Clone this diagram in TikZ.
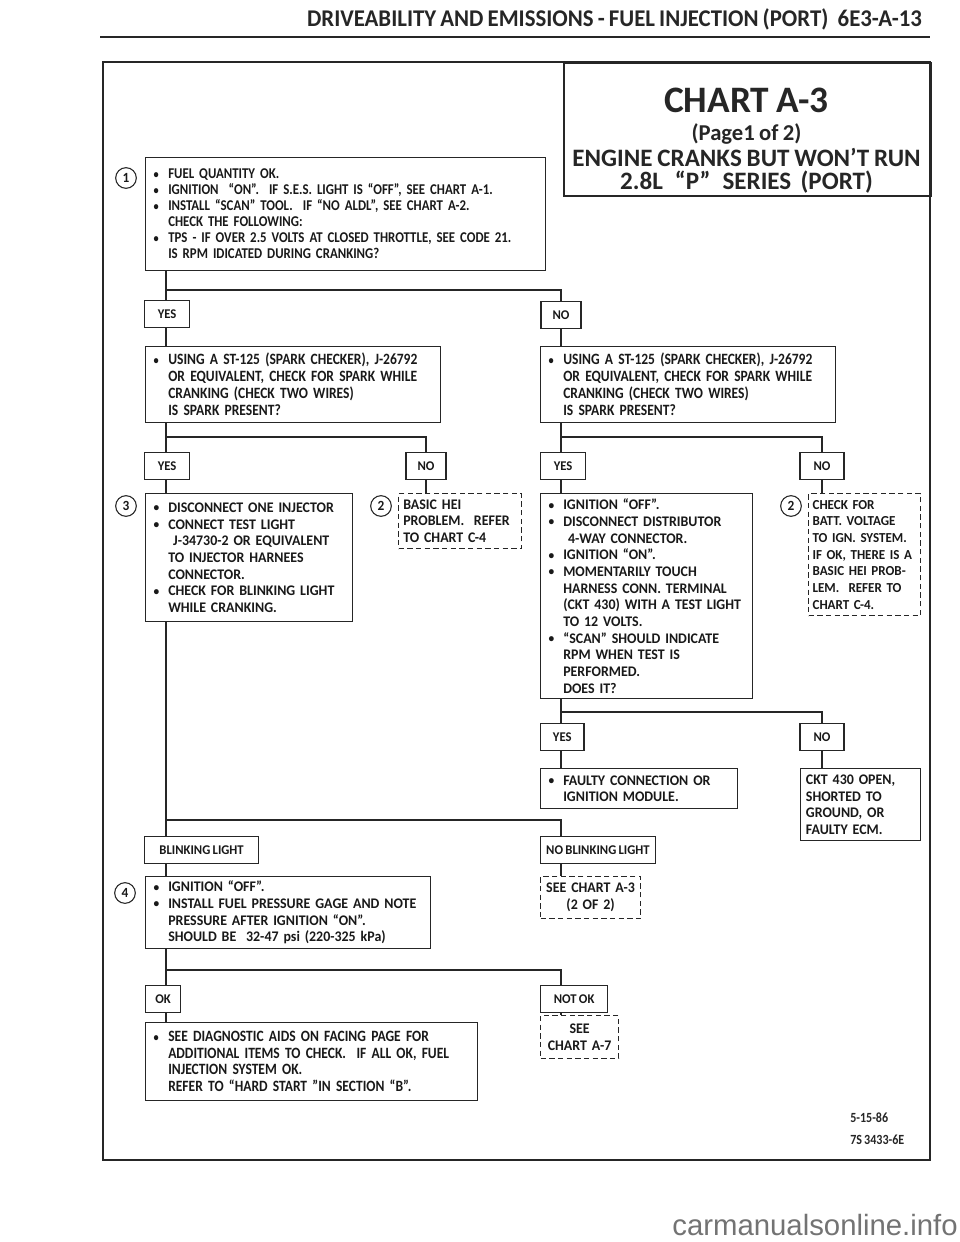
\documentclass[tikz,border=0pt]{standalone}
\usepackage{fontspec}
\setmainfont{Carlito}[FakeStretch=0.95, WordSpace=0.8]
\newfontfamily\cfont{Carlito}[FakeStretch=0.86, WordSpace=0.8]
\newfontfamily\tfont{Carlito}[FakeStretch=1.0, WordSpace=0.85]
\newfontfamily\wmfont{Liberation Sans}
\usetikzlibrary{calc}
\newcommand\bl{\makebox[11pt][l]{\raisebox{0.5pt}{\small\textbullet}}}
\newcommand\ind{\hspace*{11pt}}
\newcommand\bxfont{\bfseries\fontsize{11}{12.5}\selectfont}
\newcommand\cbxfont{\cfont\bfseries\fontsize{11.8}{12.75}\selectfont}
\begin{document}
\begin{tikzpicture}[x=0.75pt,y=-0.75pt,
  conn/.style={line width=2.2pt, draw=black!85},
  bx/.style={draw=black!85, line width=0.9pt, fill=white, anchor=north west, align=left, inner xsep=6pt, inner ysep=0pt, font=\bxfont, text=black!90},
  dbx/.style={bx, dash pattern=on 4pt off 2.5pt, inner xsep=3.5pt},
  lab/.style={draw=black!85, line width=0.9pt, fill=white, inner sep=0pt, font=\bfseries\fontsize{10}{12}\selectfont, text=black!90, minimum height=20.5pt},
  num/.style={circle, draw=black!85, line width=0.8pt, minimum size=15.5pt, inner sep=0pt, font=\bfseries\fontsize{10.5}{12}\selectfont, text=black!90},
  ttl/.style={inner sep=0pt, font=\bfseries, text=black!85},
  frame/.style={draw=black!85, line width=1.8pt}
]
\useasboundingbox (0,0) rectangle (960,1242);
\fill[white] (0,0) rectangle (960,1242);
% header
\node[ttl, font=\bfseries\fontsize{18}{20}\selectfont, anchor=east] (hdr) at (922,19) {DRIVEABILITY AND EMISSIONS - FUEL INJECTION (PORT)\hspace{7pt}6E3-A-13};
\draw[line width=1.5pt, black!85] (100,37) -- (930,37);
% frame
\draw[frame] (103,62) rectangle (930,1160);
\node[draw=black!85, line width=1.2pt, anchor=north west, minimum width=275.25pt, minimum height=99.75pt, inner sep=0pt] (title) at (563,62) {};
\node[ttl, font=\tfont\bfseries\fontsize{28}{30}\selectfont] (t1) at (746.5,100) {CHART A-3};
\node[ttl, font=\tfont\bfseries\fontsize{17}{19}\selectfont] (t2) at (746.5,134) {(Page1 of 2)};
\node[ttl, font=\tfont\bfseries\fontsize{18.8}{20}\selectfont] (t3) at (746.5,157) {ENGINE CRANKS BUT WON’T RUN};
\node[ttl, font=\tfont\bfseries\fontsize{18.8}{20}\selectfont] (t4) at (746.5,182) {2.8L\hspace{9pt}“P”\hspace{9pt}SERIES\hspace{7pt}(PORT)};
\coordinate (colL) at (166,0);
\coordinate (colR) at (561,0);
\coordinate (h290) at (0,290);
\coordinate (h437) at (0,437);
\coordinate (h712) at (0,712);
\coordinate (h820) at (0,820);
\coordinate (h970) at (0,970);
% boxes
\node[bx, font=\cfont\bfseries\fontsize{11.2}{12}\selectfont, text width=288pt, minimum height=84.75pt] (b1) at (145,157)
 {\bl FUEL QUANTITY OK.\\
  \bl IGNITION\ \ “ON”.\ \ IF S.E.S. LIGHT IS “OFF”, SEE CHART A-1.\\
  \bl INSTALL “SCAN” TOOL.\ \ IF “NO ALDL”, SEE CHART A-2.\\
  \ind CHECK THE FOLLOWING:\\
  \bl TPS - IF OVER 2.5 VOLTS AT CLOSED THROTTLE, SEE CODE 21.\\
  \ind IS RPM IDICATED DURING CRANKING?};
\node[num] (c1) at (126,178) {1};
\node[lab, anchor=west, minimum width=33.75pt] (y1) at (144,314) {YES};
\node[lab, minimum width=30pt] (n1) at (561,315) {NO};
\node[bx, font=\cbxfont, text width=209.25pt, minimum height=57pt] (sl) at (145,346)
 {\bl USING A ST-125 (SPARK CHECKER), J-26792\\
  \ind OR EQUIVALENT, CHECK FOR SPARK WHILE\\
  \ind CRANKING (CHECK TWO WIRES)\\
  \ind IS SPARK PRESENT?};
\node[bx, font=\cbxfont, text width=209.25pt, minimum height=57pt] (sr) at (540,346)
 {\bl USING A ST-125 (SPARK CHECKER), J-26792\\
  \ind OR EQUIVALENT, CHECK FOR SPARK WHILE\\
  \ind CRANKING (CHECK TWO WIRES)\\
  \ind IS SPARK PRESENT?};
\node[lab, anchor=west, minimum width=33.75pt] (y2) at (144,466) {YES};
\node[lab, minimum width=30pt] (n2) at (426,466) {NO};
\node[lab, anchor=west, minimum width=33.75pt] (y3) at (540,466) {YES};
\node[lab, minimum width=33pt] (n3) at (822,466) {NO};
\node[bx, text width=143.25pt, minimum height=96pt] (b3) at (145,493)
 {\bl DISCONNECT ONE INJECTOR\\
  \bl CONNECT TEST LIGHT\\
  \ind\ J-34730-2 OR EQUIVALENT\\
  \ind TO INJECTOR HARNEES\\
  \ind CONNECTOR.\\
  \bl CHECK FOR BLINKING LIGHT\\
  \ind WHILE CRANKING.};
\node[num] (c3) at (126,506) {3};
\node[dbx, text width=85pt, minimum height=41.25pt] (d2a) at (398,493)
 {BASIC HEI\\ PROBLEM.\ \ REFER\\ TO CHART C-4};
\node[num] (c2a) at (381,506) {2};
\node[bx, text width=147pt, minimum height=153.75pt] (ign) at (540,493)
 {\bl IGNITION “OFF”.\\
  \bl DISCONNECT DISTRIBUTOR\\
  \ind\ 4-WAY CONNECTOR.\\
  \bl IGNITION “ON”.\\
  \bl MOMENTARILY TOUCH\\
  \ind HARNESS CONN. TERMINAL\\
  \ind (CKT 430) WITH A TEST LIGHT\\
  \ind TO 12 VOLTS.\\
  \bl “SCAN” SHOULD INDICATE\\
  \ind RPM WHEN TEST IS\\
  \ind PERFORMED.\\
  \ind DOES IT?};
\node[dbx, font=\bfseries\fontsize{10.3}{12.5}\selectfont, inner xsep=3pt, text width=78pt, minimum height=91.5pt] (d2b) at (808,493)
 {CHECK FOR\\ BATT. VOLTAGE\\ TO IGN. SYSTEM.\\ IF OK, THERE IS A\\ BASIC HEI PROB-\\ LEM.\ \ REFER TO\\ CHART C-4.};
\node[num] (c2b) at (791,506) {2};
\node[lab, anchor=west, minimum width=32.5pt] (y4) at (540,737) {YES};
\node[lab, minimum width=33pt] (n4) at (822,737) {NO};
\node[bx, text width=135.75pt, minimum height=30pt] (flt) at (540,768)
 {\bl FAULTY CONNECTION OR\\ \ind IGNITION MODULE.};
\node[bx, inner xsep=4pt, text width=82pt, minimum height=54pt] (ckt) at (800,768)
 {CKT 430 OPEN,\\ SHORTED TO\\ GROUND, OR\\ FAULTY ECM.};
\node[lab, anchor=west, minimum width=85.5pt] (bl) at (144,850) {BLINKING LIGHT};
\node[lab, anchor=west, minimum width=86pt] (nbl) at (540,850) {NO BLINKING LIGHT};
\node[bx, text width=201.75pt, minimum height=54pt] (b4) at (145,876)
 {\bl IGNITION “OFF”.\\
  \bl INSTALL FUEL PRESSURE GAGE AND NOTE\\
  \ind PRESSURE AFTER IGNITION “ON”.\\
  \ind SHOULD BE\ \ 32-47 psi (220-325 kPa)};
\node[num] (c4) at (125,893) {4};
\node[dbx, align=center, text width=68pt, minimum height=31.5pt] (da3) at (540,876)
 {SEE CHART A-3\\ (2 OF 2)};
\node[lab, anchor=west, minimum width=26.25pt] (ok) at (145,999) {OK};
\node[lab, anchor=west, minimum width=50.25pt] (nok) at (540,999) {NOT OK};
\node[dbx, align=center, text width=51.5pt, minimum height=32.25pt] (da7) at (540,1015)
 {SEE\\ CHART A-7};
\node[bx, font=\cfont\bfseries\fontsize{11.8}{12.4}\selectfont, text width=237pt, minimum height=58.5pt] (fin) at (145,1022)
 {\bl SEE DIAGNOSTIC AIDS ON FACING PAGE FOR\\
  \ind ADDITIONAL ITEMS TO CHECK.\ \ IF ALL OK, FUEL\\
  \ind INJECTION SYSTEM OK.\\
  \ind REFER TO “HARD START ”IN SECTION “B”.};
\node[anchor=north west, align=left, inner sep=0pt, text=black!85, font=\cfont\bfseries\fontsize{10.5}{16.5}\selectfont] (dt) at (850,1113) {5-15-86\\ 7S 3433-6E};
\node[anchor=east, inner sep=0pt, text=black!55, font=\wmfont\fontsize{22}{24}\selectfont] (wm) at (958,1225) {carmanualsonline.info};
% connectors
\draw[conn] (b1.south -| colL) -- (y1.north -| colL);
\draw[conn] (h290 -| colL) -| (n1.north);
\draw[conn] (y1.south -| colL) -- (sl.north -| colL);
\draw[conn] (n1.south) -- (sr.north -| n1);
\draw[conn] (sl.south -| colL) -- (y2.north -| colL);
\draw[conn] (h437 -| colL) -| (n2.north);
\draw[conn] (sr.south -| colR) -- (y3.north -| colR);
\draw[conn] (h437 -| colR) -| (n3.north);
\draw[conn] (y2.south -| colL) -- (b3.north -| colL);
\draw[conn] (n2.south) -- (d2a.north -| n2);
\draw[conn] (y3.south -| colR) -- (ign.north -| colR);
\draw[conn] (n3.south) -- (d2b.north -| n3);
\draw[conn] (ign.south -| colR) -- (y4.north -| colR);
\draw[conn] (h712 -| colR) -| (n4.north);
\draw[conn] (y4.south -| colR) -- (flt.north -| colR);
\draw[conn] (n4.south) -- (ckt.north -| n4);
\draw[conn] (b3.south -| colL) -- (bl.north -| colL);
\draw[conn] (h820 -| colL) -| (nbl.north -| colR);
\draw[conn] (bl.south -| colL) -- (b4.north -| colL);
\draw[conn] (nbl.south -| colR) -- (da3.north -| colR);
\draw[conn] (b4.south -| colL) -- (ok.north -| colL);
\draw[conn] (h970 -| colL) -| (nok.north -| colR);
\draw[conn] (ok.south -| colL) -- (fin.north -| colL);
\draw[conn] (nok.south -| colR) -- (da7.north -| colR);
\end{tikzpicture}
\end{document}
